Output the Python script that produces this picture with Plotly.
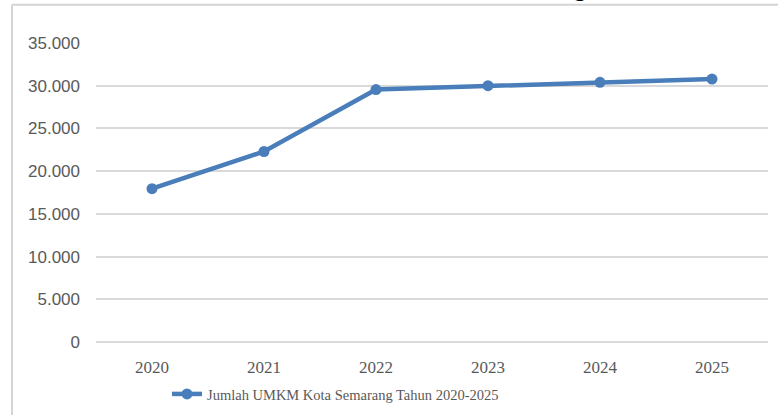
import plotly.graph_objects as go

years = ["2020", "2021", "2022", "2023", "2024", "2025"]
umkm = [17950, 22300, 29550, 30000, 30400, 30780]
series_name = "Jumlah UMKM Kota Semarang Tahun 2020-2025"
y_ticks = [0, 5000, 10000, 15000, 20000, 25000, 30000, 35000]

W, H = 778, 415
L, R = 96, 768
T, B = 43.3, 342.3
pw, ph = R - L, B - T

def px(x):
    return (x - L) / pw

def py(y):
    return (B - y) / ph

fig = go.Figure()
fig.add_trace(go.Scatter(
    x=years, y=umkm, mode="lines+markers", name=series_name,
    line=dict(color="#4a7ebb", width=4.5),
    marker=dict(color="#4a7ebb", size=11),
))

border = "#d4d4d4"
fig.add_shape(type="line", xref="paper", yref="paper",
              x0=px(12), x1=px(790), y0=py(5), y1=py(5),
              line=dict(color=border, width=2))
fig.add_shape(type="line", xref="paper", yref="paper",
              x0=px(12), x1=px(12), y0=py(5), y1=py(420),
              line=dict(color=border, width=2))

fig.add_annotation(text="<b>g</b>", xref="paper", yref="paper",
                   x=px(580), y=py(3.8), xanchor="center", yanchor="bottom",
                   showarrow=False, font=dict(family="Liberation Serif", size=24, color="#000"))

fig.update_layout(
    width=W, height=H,
    margin=dict(l=L, r=W - R, t=T, b=H - B, autoexpand=False),
    paper_bgcolor="white", plot_bgcolor="white",
    separators=",.",
    showlegend=True,
    legend=dict(orientation="h", xref="container", yref="container",
                x=167 / W, y=1 - 378 / H, xanchor="left", yanchor="top",
                font=dict(family="Liberation Serif", size=14.5, color="#595959"),
                bgcolor="rgba(0,0,0,0)"),
    xaxis=dict(type="category", range=[-0.5, 5.5], showgrid=False,
               showline=False, zeroline=False, automargin=False,
               tickfont=dict(family="Liberation Serif", size=17, color="#595959"),
               ticks="", ticklabelstandoff=13),
    yaxis=dict(range=[0, 35000], tickvals=y_ticks, tickformat=",d",
               showgrid=True, gridcolor="#d9d9d9", gridwidth=2,
               zeroline=True, zerolinecolor="#d9d9d9", zerolinewidth=2,
               showline=False, ticks="", ticklabelstandoff=15, automargin=False,
               tickfont=dict(family="Liberation Sans", size=17, color="#595959")),
)

fig.write_html("out.html", config={"displayModeBar": False},
               post_script="document.body.style.margin='0';document.body.style.overflow='hidden';")
